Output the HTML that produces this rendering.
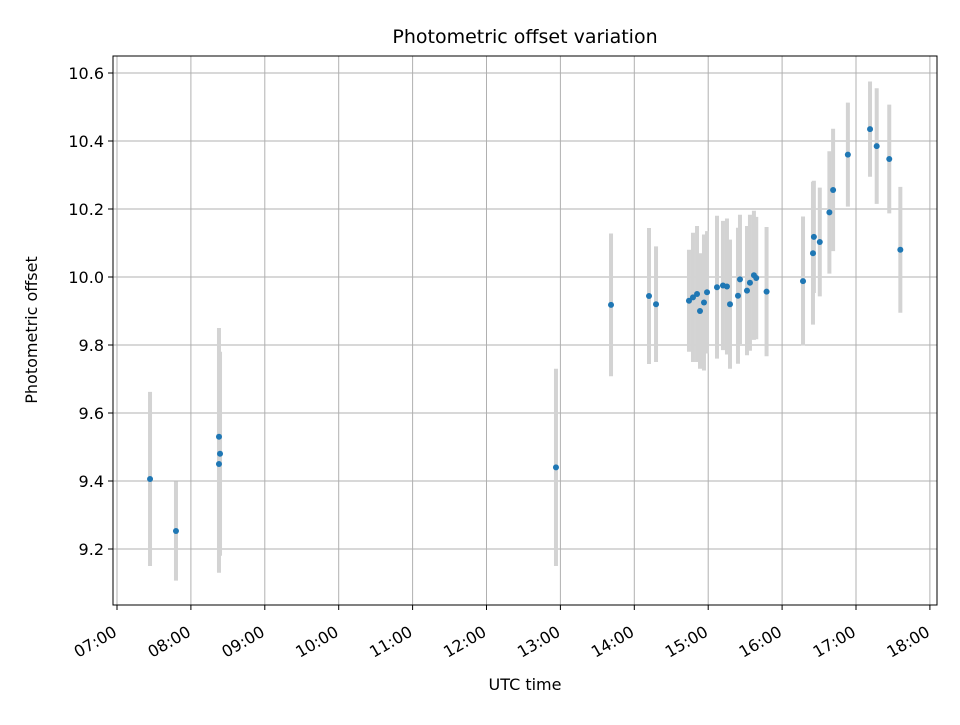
<!DOCTYPE html>
<html><head><meta charset="utf-8"><style>
body{margin:0;background:#fff}
svg text{font-family:"DejaVu Sans","Liberation Sans",sans-serif;fill:#000}
</style></head><body>
<svg id="chart" width="960" height="720" viewBox="0 0 960 720" xmlns="http://www.w3.org/2000/svg"></svg>
<script>
const times=[7.447,7.798,8.380,8.394,8.38,12.94,13.685,14.199,14.294,14.740,14.794,14.849,14.889,14.943,14.984,15.119,15.2,15.254,15.295,15.403,15.430,15.525,15.565,15.619,15.65,15.79,16.283,16.418,16.43,16.51,16.64,16.69,16.89,17.19,17.28,17.45,17.6];
const offsets=[9.406,9.253,9.45,9.48,9.53,9.44,9.918,9.944,9.92,9.93,9.94,9.95,9.90,9.925,9.955,9.97,9.975,9.972,9.92,9.945,9.993,9.96,9.983,10.005,9.997,9.957,9.988,10.07,10.118,10.103,10.19,10.256,10.36,10.435,10.385,10.347,10.08];
const errors=[0.256,0.146,0.32,0.30,0.32,0.29,0.21,0.2,0.17,0.15,0.19,0.2,0.17,0.2,0.18,0.21,0.19,0.2,0.19,0.2,0.19,0.19,0.2,0.19,0.18,0.19,0.19,0.21,0.165,0.16,0.18,0.18,0.153,0.14,0.17,0.16,0.185];
const xTicks=[7,8,9,10,11,12,13,14,15,16,17,18];
const yTicks=[9.2,9.4,9.6,9.8,10.0,10.2,10.4,10.6];
const L=113,R=937,T=56,B=605;
const xs=t=>117+(t-7)*73.9;
const ys=v=>73+(10.6-v)*340;
const svg=document.getElementById('chart');
const NS='http://www.w3.org/2000/svg';
function mk(tag,attrs,parent){const e=document.createElementNS(NS,tag);for(const k in attrs)e.setAttribute(k,attrs[k]);(parent||svg).appendChild(e);return e;}
const grid=mk('g',{});


xTicks.forEach(t=>{const x=xs(t);mk('line',{x1:x,x2:x,y1:T,y2:B,stroke:'#b0b0b0','stroke-width':1},grid);});
yTicks.forEach(v=>{const y=ys(v);mk('line',{x1:L,x2:R,y1:y,y2:y,stroke:'#b0b0b0','stroke-width':1},grid);});
const eb=mk('g',{});


times.forEach((t,i)=>{const l=mk('line',{x1:xs(t),x2:xs(t),y1:ys(offsets[i]+errors[i]),y2:ys(offsets[i]-errors[i]),stroke:'#d3d3d3','stroke-width':4},eb);});
const pts=mk('g',{});


times.forEach((t,i)=>{const c=mk('circle',{cx:xs(t),cy:ys(offsets[i]),r:3,fill:'#1f77b4'},pts);});
const frame=mk('rect',{x:L,y:T,width:R-L,height:B-T,fill:'none',stroke:'#000','stroke-width':1});


const xa=mk('g',{});


xTicks.forEach(t=>{const x=xs(t);mk('line',{x1:x,x2:x,y1:B,y2:B+5,stroke:'#000'},xa);
const ax=x+1,ay=B+30;
const lb=mk('text',{x:ax,y:ay,'font-size':16,'text-anchor':'end',transform:`rotate(-30 ${ax} ${ay})`},xa);
lb.textContent=String(t).padStart(2,'0')+':00';
});
const ya=mk('g',{});


yTicks.forEach(v=>{const y=ys(v);mk('line',{x1:L-5,x2:L,y1:y,y2:y,stroke:'#000'},ya);
const lb=mk('text',{x:L-9,y:y+6,'font-size':16,'text-anchor':'end'},ya);lb.textContent=v.toFixed(1);
});
const title=mk('text',{x:525,y:43,'font-size':19,'text-anchor':'middle'});title.textContent='Photometric offset variation';

const xl=mk('text',{x:525,y:690,'font-size':16,'text-anchor':'middle'});xl.textContent='UTC time';

const yl=mk('text',{x:37,y:330,'font-size':16,'text-anchor':'middle',transform:'rotate(-90 37 330)'});yl.textContent='Photometric offset';

</script>
</body></html>
